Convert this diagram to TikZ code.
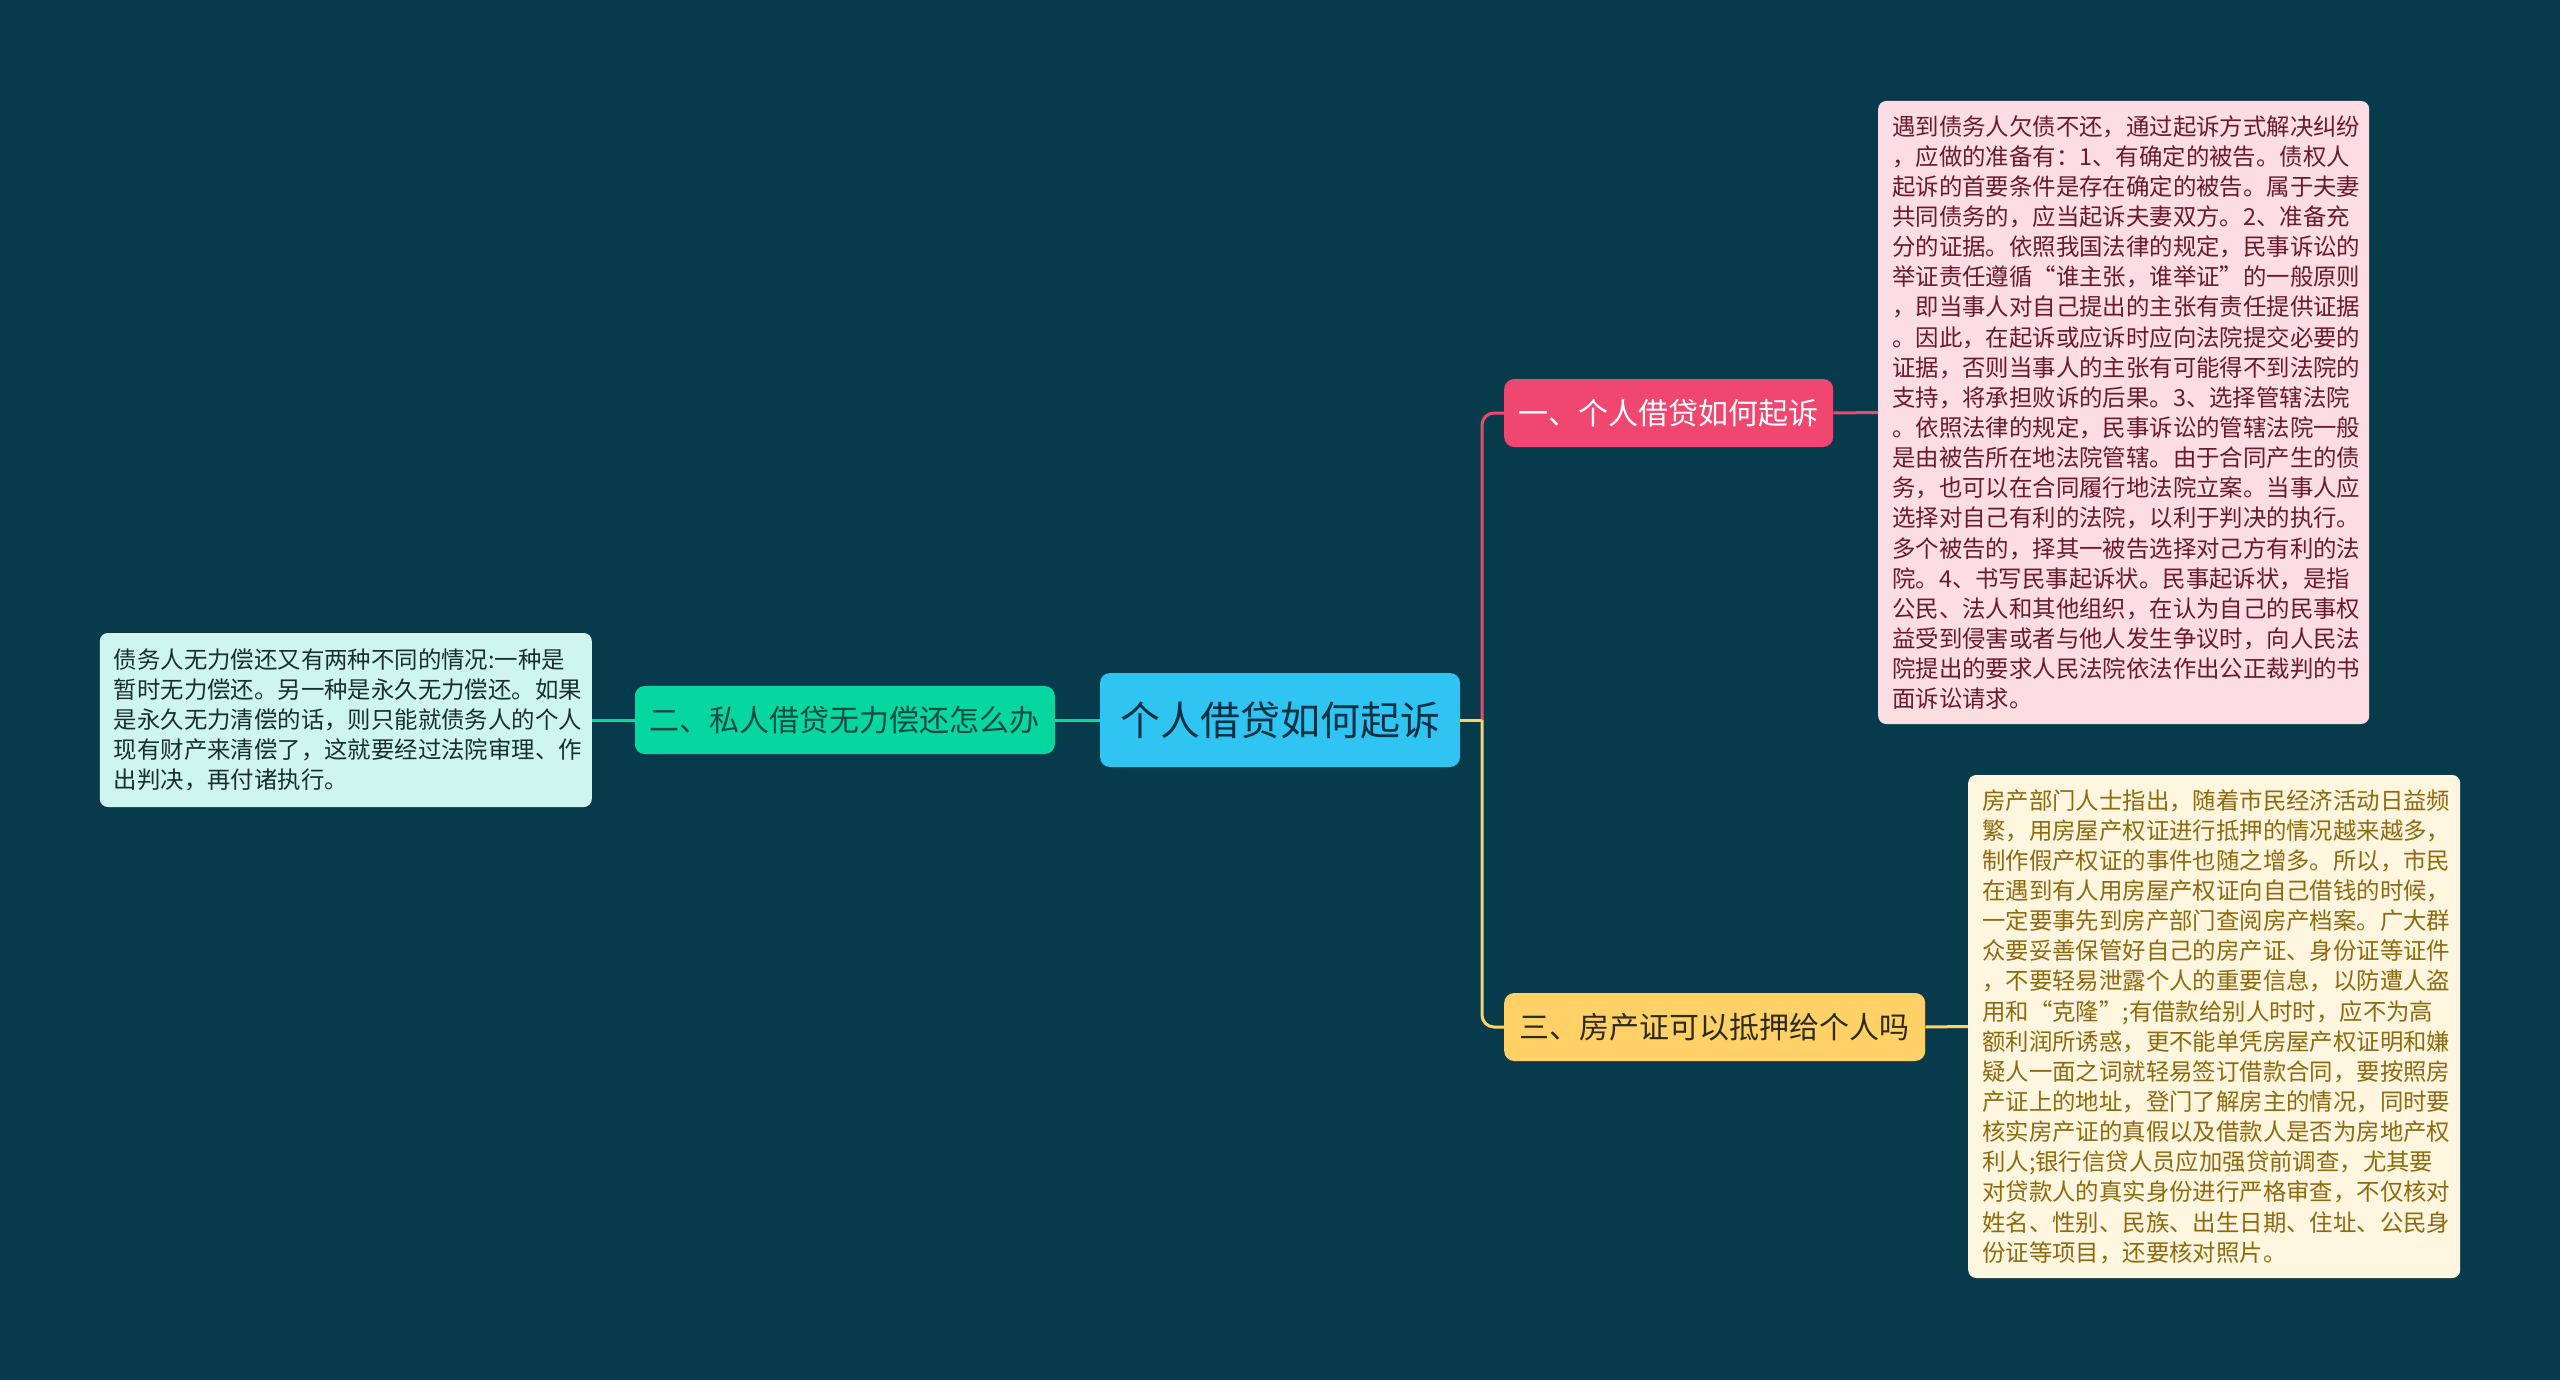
\documentclass[tikz,border=0pt]{standalone}
\usepackage{fontspec}
\setmainfont{Noto Sans CJK SC}
\definecolor{bg}{HTML}{073B4C}
\definecolor{cblue}{HTML}{30C4F3}
\definecolor{cpink}{HTML}{EF476F}
\definecolor{cyellow}{HTML}{FFD166}
\definecolor{cgreen}{HTML}{06D6A0}
\definecolor{lpink}{HTML}{FBDDE3}
\definecolor{lcream}{HTML}{FFF6DF}
\definecolor{lmint}{HTML}{CFF6EE}
\definecolor{tpink}{HTML}{6B1A2E}
\definecolor{tcream}{HTML}{8D6A10}
\definecolor{tmint}{HTML}{17302C}
\definecolor{tdark}{HTML}{0B3142}
\definecolor{tgreen}{HTML}{134A44}
\definecolor{tyellow}{HTML}{2F2A1E}
\tikzset{
  centerbox/.style={fill=cblue, rounded corners=10pt, minimum width=360pt, minimum height=94pt, inner sep=0pt, text=tdark, font=\fontsize{40}{48}\selectfont},
  branchbox/.style={rounded corners=10pt, minimum height=68pt, inner sep=0pt, font=\fontsize{30}{36}\selectfont},
  leafbox/.style={rounded corners=8pt, inner xsep=14pt, inner ysep=0pt, align=left, font=\fontsize{23.4}{30.15}\selectfont},
  conn/.style={line width=3pt}
}
\begin{document}
\begin{tikzpicture}[x=1pt,y=-1pt]
\fill[bg] (0,0) rectangle (2560,1380);
\useasboundingbox (0,0) rectangle (2560,1380);

\node[centerbox] (center) at (1280,720) {个人借贷如何起诉};

\node[branchbox, fill=cpink, text=white, minimum width=329pt, anchor=west] (b1) at (1504,413) {一、个人借贷如何起诉};
\node[branchbox, fill=cgreen, text=tgreen, minimum width=420pt, anchor=east] (b2) at (1055,720) {二、私人借贷无力偿还怎么办};
\node[branchbox, fill=cyellow, text=tyellow, minimum width=421pt, anchor=west] (b3) at (1504,1027) {三、房产证可以抵押给个人吗};

\node[leafbox, fill=lpink, text=tpink, text width=463pt, minimum height=623pt, anchor=west] (l1) at (1878,412.5) {遇到债务人欠债不还，通过起诉方式解决纠纷\\
，应做的准备有：1、有确定的被告。债权人\\
起诉的首要条件是存在确定的被告。属于夫妻\\
共同债务的，应当起诉夫妻双方。2、准备充\\
分的证据。依照我国法律的规定，民事诉讼的\\
举证责任遵循“谁主张，谁举证”的一般原则\\
，即当事人对自己提出的主张有责任提供证据\\
。因此，在起诉或应诉时应向法院提交必要的\\
证据，否则当事人的主张有可能得不到法院的\\
支持，将承担败诉的后果。3、选择管辖法院\\
。依照法律的规定，民事诉讼的管辖法院一般\\
是由被告所在地法院管辖。由于合同产生的债\\
务，也可以在合同履行地法院立案。当事人应\\
选择对自己有利的法院，以利于判决的执行。\\
多个被告的，择其一被告选择对己方有利的法\\
院。4、书写民事起诉状。民事起诉状，是指\\
公民、法人和其他组织，在认为自己的民事权\\
益受到侵害或者与他人发生争议时，向人民法\\
院提出的要求人民法院依法作出公正裁判的书\\
面诉讼请求。};

\node[leafbox, fill=lmint, text=tmint, text width=464pt, minimum height=174pt, anchor=east] (l2) at (592,720) {债务人无力偿还又有两种不同的情况:一种是\\
暂时无力偿还。另一种是永久无力偿还。如果\\
是永久无力清偿的话，则只能就债务人的个人\\
现有财产来清偿了，这就要经过法院审理、作\\
出判决，再付诸执行。};

\node[leafbox, fill=lcream, text=tcream, text width=464pt, minimum height=503pt, anchor=west] (l3) at (1968,1026.5) {房产部门人士指出，随着市民经济活动日益频\\
繁，用房屋产权证进行抵押的情况越来越多，\\
制作假产权证的事件也随之增多。所以，市民\\
在遇到有人用房屋产权证向自己借钱的时候，\\
一定要事先到房产部门查阅房产档案。广大群\\
众要妥善保管好自己的房产证、身份证等证件\\
，不要轻易泄露个人的重要信息，以防遭人盗\\
用和“克隆”;有借款给别人时时，应不为高\\
额利润所诱惑，更不能单凭房屋产权证明和嫌\\
疑人一面之词就轻易签订借款合同，要按照房\\
产证上的地址，登门了解房主的情况，同时要\\
核实房产证的真假以及借款人是否为房地产权\\
利人;银行信贷人员应加强贷前调查，尤其要\\
对贷款人的真实身份进行严格审查，不仅核对\\
姓名、性别、民族、出生日期、住址、公民身\\
份证等项目，还要核对照片。};

\coordinate (trunk) at (1482,720);
\draw[conn, cpink, rounded corners=12pt] (trunk) |- (b1.west);
\draw[conn, cyellow, rounded corners=12pt] (trunk) |- (b3.west);
\draw[conn, cyellow] (center.east) -- (trunk);
\draw[conn, cpink] (b1.east) -- (l1.west);
\draw[conn, cyellow] (b3.east) -- (l3.west);
\draw[conn, cgreen] (center.west) -- (b2.east);
\draw[conn, cgreen] (b2.west) -- (l2.east);
\end{tikzpicture}
\end{document}
